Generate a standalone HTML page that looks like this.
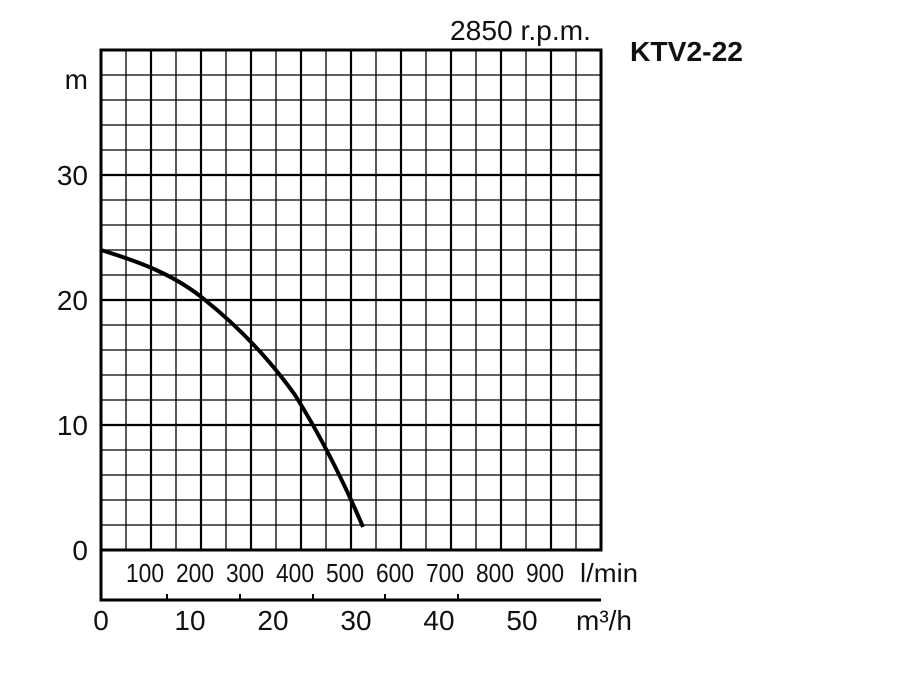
<!DOCTYPE html><html><head><style>body{margin:0;background:#fff}svg{display:block}text{font-family:"Liberation Sans",Arial,sans-serif;fill:#111}</style></head><body>
<svg width="900" height="700" viewBox="0 0 900 700">
<g stroke="#000" stroke-width="1.3">
<path d="M126 50V550M176 50V550M226 50V550M276 50V550M326 50V550M376 50V550M426 50V550M476 50V550M526 50V550M576 50V550"/>
<path d="M101 75H601M101 100H601M101 125H601M101 150H601M101 200H601M101 225H601M101 250H601M101 275H601M101 325H601M101 350H601M101 375H601M101 400H601M101 450H601M101 475H601M101 500H601M101 525H601"/>
</g>
<g stroke="#000" stroke-width="2.2">
<path d="M151 50V550M201 50V550M251 50V550M301 50V550M351 50V550M401 50V550M451 50V550M501 50V550M551 50V550"/>
<path d="M101 175H601M101 300H601M101 425H601"/>
</g>
<g stroke="#000" stroke-width="3" fill="none">
<rect x="101" y="50" width="500" height="500"/>
<path d="M101 550V600H601"/>
<path d="M167 600V594M240 600V594M313 600V594M385 600V594M458 600V594" stroke-width="2"/>
</g>
<path d="M101 250 C140 262 175 275 205 300 C240 328 270 360 295 395 C320 435 343 480 363 527" stroke="#000" stroke-width="4" fill="none"/>
<g font-size="28">
<text x="88" y="89" text-anchor="end">m</text>
<text x="88" y="185" text-anchor="end">30</text>
<text x="88" y="310" text-anchor="end">20</text>
<text x="88" y="435" text-anchor="end">10</text>
<text x="88" y="560" text-anchor="end">0</text>
<text x="450" y="40" textLength="141" lengthAdjust="spacingAndGlyphs">2850 r.p.m.</text>
<text x="630" y="61" font-weight="bold" textLength="113" lengthAdjust="spacingAndGlyphs">KTV2-22</text>
</g>
<g font-size="26" text-anchor="middle">
<text x="145" y="582" textLength="38" lengthAdjust="spacingAndGlyphs">100</text><text x="195" y="582" textLength="38" lengthAdjust="spacingAndGlyphs">200</text><text x="245" y="582" textLength="38" lengthAdjust="spacingAndGlyphs">300</text><text x="295" y="582" textLength="38" lengthAdjust="spacingAndGlyphs">400</text><text x="345" y="582" textLength="38" lengthAdjust="spacingAndGlyphs">500</text><text x="395" y="582" textLength="38" lengthAdjust="spacingAndGlyphs">600</text><text x="445" y="582" textLength="38" lengthAdjust="spacingAndGlyphs">700</text><text x="495" y="582" textLength="38" lengthAdjust="spacingAndGlyphs">800</text><text x="545" y="582" textLength="38" lengthAdjust="spacingAndGlyphs">900</text>
<text x="609" y="582" textLength="58" lengthAdjust="spacingAndGlyphs">l/min</text>
</g>
<g font-size="28" text-anchor="middle">
<text x="101" y="630">0</text><text x="190" y="630">10</text><text x="273" y="630">20</text><text x="356" y="630">30</text><text x="439" y="630">40</text><text x="522" y="630">50</text>
<text x="604" y="630" textLength="56" lengthAdjust="spacingAndGlyphs">m³/h</text>
</g>
</svg></body></html>
